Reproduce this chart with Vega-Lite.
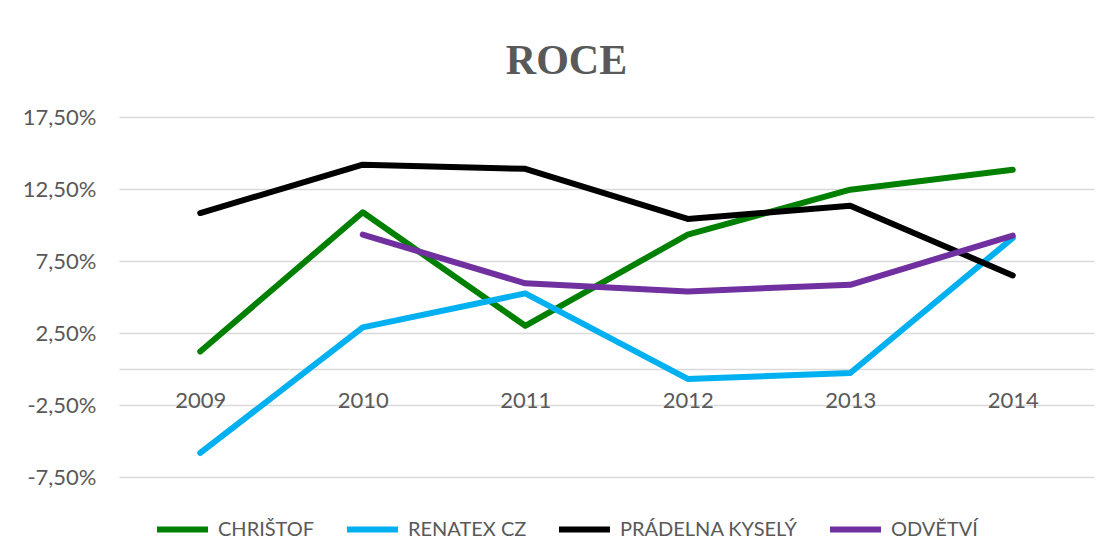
{
  "$schema": "https://vega.github.io/schema/vega-lite/v6.json",
  "autosize": {"type": "none"},
  "width": 975,
  "height": 360,
  "padding": {"left": 119, "top": 117, "right": 19, "bottom": 82},
  "background": "white",
  "title": {
    "text": "ROCE",
    "font": "Liberation Serif",
    "fontWeight": "bold",
    "fontSize": 42,
    "color": "#595959",
    "anchor": "middle",
    "frame": "group",
    "dx": -40,
    "offset": 23
  },
  "config": {
    "view": {"stroke": null},
    "locale": {
      "number": {"decimal": ",", "thousands": " ", "grouping": [3], "currency": ["", ""], "minus": "-"}
    },
    "axis": {"labelFont": "Lato", "labelFontSize": 22, "labelColor": "#595959"},
    "legend": {"labelFont": "Lato", "labelFontSize": 20, "labelColor": "#595959"}
  },
  "data": {
    "values": [
      {"year": "2009", "firma": "CHRIŠTOF", "roce": 0.0122},
      {"year": "2010", "firma": "CHRIŠTOF", "roce": 0.1088},
      {"year": "2011", "firma": "CHRIŠTOF", "roce": 0.0300},
      {"year": "2012", "firma": "CHRIŠTOF", "roce": 0.0933},
      {"year": "2013", "firma": "CHRIŠTOF", "roce": 0.1245},
      {"year": "2014", "firma": "CHRIŠTOF", "roce": 0.1384},
      {"year": "2009", "firma": "RENATEX CZ", "roce": -0.0583},
      {"year": "2010", "firma": "RENATEX CZ", "roce": 0.0289},
      {"year": "2011", "firma": "RENATEX CZ", "roce": 0.0525},
      {"year": "2012", "firma": "RENATEX CZ", "roce": -0.0069},
      {"year": "2013", "firma": "RENATEX CZ", "roce": -0.0028},
      {"year": "2014", "firma": "RENATEX CZ", "roce": 0.0910},
      {"year": "2009", "firma": "PRÁDELNA KYSELÝ", "roce": 0.1083},
      {"year": "2010", "firma": "PRÁDELNA KYSELÝ", "roce": 0.1419},
      {"year": "2011", "firma": "PRÁDELNA KYSELÝ", "roce": 0.1390},
      {"year": "2012", "firma": "PRÁDELNA KYSELÝ", "roce": 0.1042},
      {"year": "2013", "firma": "PRÁDELNA KYSELÝ", "roce": 0.1134},
      {"year": "2014", "firma": "PRÁDELNA KYSELÝ", "roce": 0.0650},
      {"year": "2010", "firma": "ODVĚTVÍ", "roce": 0.0933},
      {"year": "2011", "firma": "ODVĚTVÍ", "roce": 0.0595},
      {"year": "2012", "firma": "ODVĚTVÍ", "roce": 0.0539},
      {"year": "2013", "firma": "ODVĚTVÍ", "roce": 0.0585},
      {"year": "2014", "firma": "ODVĚTVÍ", "roce": 0.0926}
    ]
  },
  "mark": {"type": "line", "strokeWidth": 6, "strokeCap": "round", "strokeJoin": "round"},
  "encoding": {
    "x": {
      "field": "year",
      "type": "ordinal",
      "scale": {"type": "point", "padding": 0.5},
      "axis": {
        "title": null,
        "labelAngle": 0,
        "offset": -108,
        "ticks": false,
        "grid": false,
        "domainColor": "#d9d9d9",
        "domainWidth": 1.5,
        "labelPadding": 21
      }
    },
    "y": {
      "field": "roce",
      "type": "quantitative",
      "scale": {"domain": [-0.075, 0.175], "nice": false, "zero": false},
      "axis": {
        "title": null,
        "values": [-0.075, -0.025, 0.025, 0.075, 0.125, 0.175],
        "format": ".2%",
        "domain": false,
        "ticks": false,
        "gridColor": "#d9d9d9",
        "gridWidth": 1.5,
        "labelPadding": 23
      }
    },
    "color": {
      "field": "firma",
      "type": "nominal",
      "sort": null,
      "scale": {
        "domain": ["CHRIŠTOF", "RENATEX CZ", "PRÁDELNA KYSELÝ", "ODVĚTVÍ"],
        "range": ["#008000", "#00B0F0", "#000000", "#7030A0"]
      },
      "legend": {
        "title": null,
        "orient": "none",
        "direction": "horizontal",
        "legendX": 35,
        "legendY": 384,
        "padding": 0,
        "gridAlign": "none",
        "symbolType": "stroke",
        "symbolStrokeWidth": 6,
        "symbolSize": 2601,
        "labelOffset": 7,
        "labelLimit": 400,
        "columnPadding": 20,
        "encoding": {"symbols": {"update": {"strokeCap": {"value": "round"}}}}
      }
    }
  }
}
